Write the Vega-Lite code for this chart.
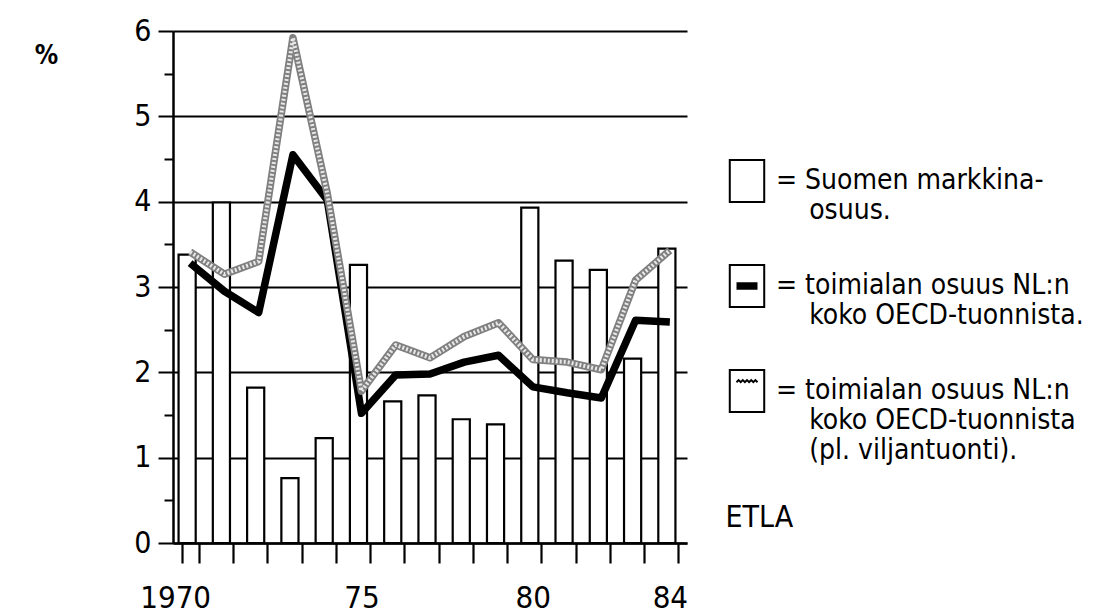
{
  "$schema": "https://vega.github.io/schema/vega-lite/v6.json",
  "width": 514,
  "height": 512,
  "autosize": {"type": "none"},
  "padding": {"left": 173, "top": 31, "right": 419, "bottom": 73},
  "background": "white",
  "config": {"view": {"stroke": null}, "font": "DejaVu Sans Condensed"},
  "data": {"values": [
    {"year": 1970, "series": "A", "value": 3.38},
    {"year": 1971, "series": "A", "value": 3.99},
    {"year": 1972, "series": "A", "value": 1.82},
    {"year": 1973, "series": "A", "value": 0.76},
    {"year": 1974, "series": "A", "value": 1.23},
    {"year": 1975, "series": "A", "value": 3.26},
    {"year": 1976, "series": "A", "value": 1.66},
    {"year": 1977, "series": "A", "value": 1.73},
    {"year": 1978, "series": "A", "value": 1.45},
    {"year": 1979, "series": "A", "value": 1.39},
    {"year": 1980, "series": "A", "value": 3.93},
    {"year": 1981, "series": "A", "value": 3.31},
    {"year": 1982, "series": "A", "value": 3.2},
    {"year": 1983, "series": "A", "value": 2.16},
    {"year": 1984, "series": "A", "value": 3.45},
    {"year": 1970, "series": "B", "value": 3.28},
    {"year": 1971, "series": "B", "value": 2.95},
    {"year": 1972, "series": "B", "value": 2.7},
    {"year": 1973, "series": "B", "value": 4.55},
    {"year": 1974, "series": "B", "value": 4.02},
    {"year": 1975, "series": "B", "value": 1.52},
    {"year": 1976, "series": "B", "value": 1.97},
    {"year": 1977, "series": "B", "value": 1.98},
    {"year": 1978, "series": "B", "value": 2.12},
    {"year": 1979, "series": "B", "value": 2.2},
    {"year": 1980, "series": "B", "value": 1.83},
    {"year": 1981, "series": "B", "value": 1.76},
    {"year": 1982, "series": "B", "value": 1.7},
    {"year": 1983, "series": "B", "value": 2.61},
    {"year": 1984, "series": "B", "value": 2.59},
    {"year": 1970, "series": "C", "value": 3.41},
    {"year": 1971, "series": "C", "value": 3.15},
    {"year": 1972, "series": "C", "value": 3.3},
    {"year": 1973, "series": "C", "value": 5.92},
    {"year": 1974, "series": "C", "value": 4.1},
    {"year": 1975, "series": "C", "value": 1.78},
    {"year": 1976, "series": "C", "value": 2.32},
    {"year": 1977, "series": "C", "value": 2.17},
    {"year": 1978, "series": "C", "value": 2.42},
    {"year": 1979, "series": "C", "value": 2.58},
    {"year": 1980, "series": "C", "value": 2.15},
    {"year": 1981, "series": "C", "value": 2.12},
    {"year": 1982, "series": "C", "value": 2.03},
    {"year": 1983, "series": "C", "value": 3.08},
    {"year": 1984, "series": "C", "value": 3.43}
  ]},
  "encoding": {
    "x": {
      "field": "year", "type": "ordinal",
      "scale": {"paddingInner": 0.5, "paddingOuter": 0.25},
      "axis": {
        "tickBand": "extent",
        "labelExpr": "datum.value == 1970 ? '1970' : datum.value == 1975 ? '75' : datum.value == 1980 ? '80' : datum.value == 1984 ? '84' : ''",
        "labelAngle": 0,
        "labelFontSize": 31,
        "labelColor": "black",
        "labelPadding": 20,
        "labelOffset": {"condition": {"test": "datum.value == 1970", "value": -15}, "value": 0},
        "tickSize": 20,
        "tickWidth": 2.2,
        "tickColor": "black",
        "domainColor": "black",
        "domainWidth": 2.5,
        "grid": false,
        "title": "ETLA",
        "titleX": 552,
        "titleY": -26,
        "titleAlign": "left",
        "titleBaseline": "middle",
        "titleFontSize": 30,
        "titleFontWeight": "normal",
        "titleColor": "black"
      }
    },
    "y": {
      "field": "value", "type": "quantitative",
      "scale": {"domain": [0, 6]},
      "axis": {
        "values": [0, 0.5, 1, 1.5, 2, 2.5, 3, 3.5, 4, 4.5, 5, 5.5, 6],
        "labelExpr": "datum.value % 1 === 0 ? format(datum.value, 'd') : ''",
        "labelFontSize": 30,
        "labelColor": "black",
        "labelPadding": 7,
        "grid": true,
        "gridColor": "black",
        "gridWidth": 2,
        "gridOpacity": {"condition": {"test": "datum.value % 1 !== 0", "value": 0}, "value": 1},
        "tickSize": {"condition": {"test": "datum.value % 1 !== 0", "value": 9}, "value": 15},
        "tickWidth": 2,
        "tickColor": "black",
        "domainColor": "black",
        "domainWidth": 2.5,
        "title": "%",
        "titleAngle": 0,
        "titleX": -127,
        "titleY": 24,
        "titleAlign": "center",
        "titleBaseline": "middle",
        "titleFontSize": 26,
        "titleFontWeight": "bold",
        "titleColor": "black"
      }
    }
  },
  "layer": [
    {
      "transform": [{"filter": "datum.series === 'A'"}],
      "mark": {"type": "bar", "fill": "white", "strokeWidth": 2.2, "xOffset": -3},
      "encoding": {
        "stroke": {
          "field": "series", "type": "nominal",
          "scale": {"domain": ["A", "B", "C"], "range": ["black", "black", "black"]},
          "legend": {
            "orient": "none",
            "legendX": 552,
            "legendY": 128,
            "title": null,
            "padding": 0,
            "symbolSize": 1764,
            "symbolStrokeWidth": 2,
            "symbolFillColor": "white",
            "symbolStrokeColor": "black",
            "symbolOpacity": 1,
            "labelFontSize": 28,
            "labelColor": "black",
            "labelLimit": 500,
            "labelOffset": 7,
            "rowPadding": 6,
            "labelExpr": "datum.value == 'A' ? ['= Suomen markkina-', '\u200b\u2003 osuus.', '\u2003'] : datum.value == 'B' ? ['= toimialan osuus NL:n', '\u200b\u2003 koko OECD-tuonnista.', '\u2003'] : ['= toimialan osuus NL:n', '\u200b\u2003 koko OECD-tuonnista', '\u200b\u2003 (pl. viljantuonti).']"
          }
        }
      }
    },
    {
      "transform": [{"filter": "datum.series === 'A'"}],
      "mark": {"type": "point", "opacity": 0},
      "encoding": {
        "shape": {
          "field": "series", "type": "nominal",
          "scale": {
            "domain": ["A", "B", "C"],
            "range": [
              "M-0.82,-1H0.82V1H-0.82Z",
              "M-0.82,-1H0.82V1H-0.82Z M-0.5,-0.13H0.5 M-0.5,-0.04H0.5 M-0.5,0.04H0.5 M-0.5,0.13H0.5",
              "M-0.82,-1H0.82V1H-0.82Z M-0.5,-0.42L-0.4,-0.52L-0.3,-0.42L-0.2,-0.52L-0.1,-0.42L0,-0.52L0.1,-0.42L0.2,-0.52L0.3,-0.42L0.4,-0.52L0.5,-0.42"
            ]
          },
          "legend": {
            "orient": "none",
            "legendX": 552,
            "legendY": 128,
            "title": null,
            "padding": 0,
            "symbolSize": 1764,
            "symbolStrokeWidth": 2,
            "symbolFillColor": "white",
            "symbolStrokeColor": "black",
            "symbolOpacity": 1,
            "labelFontSize": 28,
            "labelColor": "black",
            "labelLimit": 500,
            "labelOffset": 7,
            "rowPadding": 6,
            "labelExpr": "datum.value == 'A' ? ['= Suomen markkina-', '\u200b\u2003 osuus.', '\u2003'] : datum.value == 'B' ? ['= toimialan osuus NL:n', '\u200b\u2003 koko OECD-tuonnista.', '\u2003'] : ['= toimialan osuus NL:n', '\u200b\u2003 koko OECD-tuonnista', '\u200b\u2003 (pl. viljantuonti).']"
          }
        }
      }
    },
    {
      "transform": [{"filter": "datum.series === 'B'"}],
      "mark": {"type": "line", "strokeWidth": 7.5, "strokeJoin": "round", "color": "black"},
      "encoding": {}
    },
    {
      "transform": [{"filter": "datum.series === 'C'"}],
      "mark": {"type": "line", "strokeWidth": 7.5, "strokeJoin": "round", "color": "#808080"},
      "encoding": {}
    },
    {
      "transform": [{"filter": "datum.series === 'C'"}],
      "mark": {"type": "line", "strokeWidth": 4, "strokeJoin": "round", "color": "#e8e8e8", "strokeDash": [2, 2]},
      "encoding": {}
    }
  ]
}
